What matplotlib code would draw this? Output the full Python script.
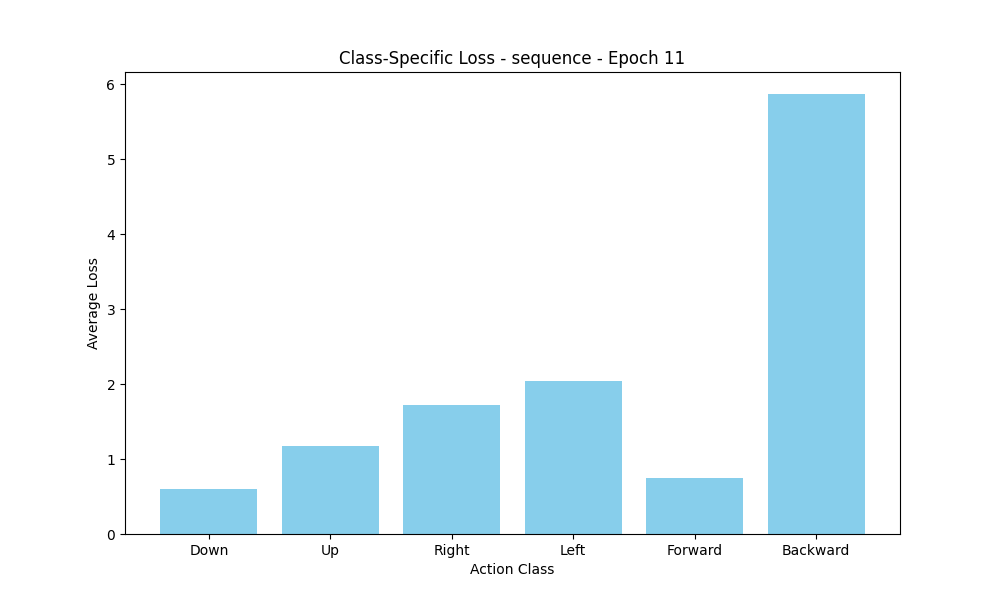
import matplotlib
matplotlib.use("Agg")
import matplotlib.pyplot as plt

classes = ["Down", "Up", "Right", "Left", "Forward", "Backward"]
losses = [0.604, 1.177, 1.724, 2.044, 0.751, 5.871]

fig, ax = plt.subplots(figsize=(10, 6), dpi=100)
ax.bar(classes, losses, color="skyblue")
ax.set_title("Class-Specific Loss - sequence - Epoch 11")
ax.set_xlabel("Action Class")
ax.set_ylabel("Average Loss")
fig.savefig("out.png")
